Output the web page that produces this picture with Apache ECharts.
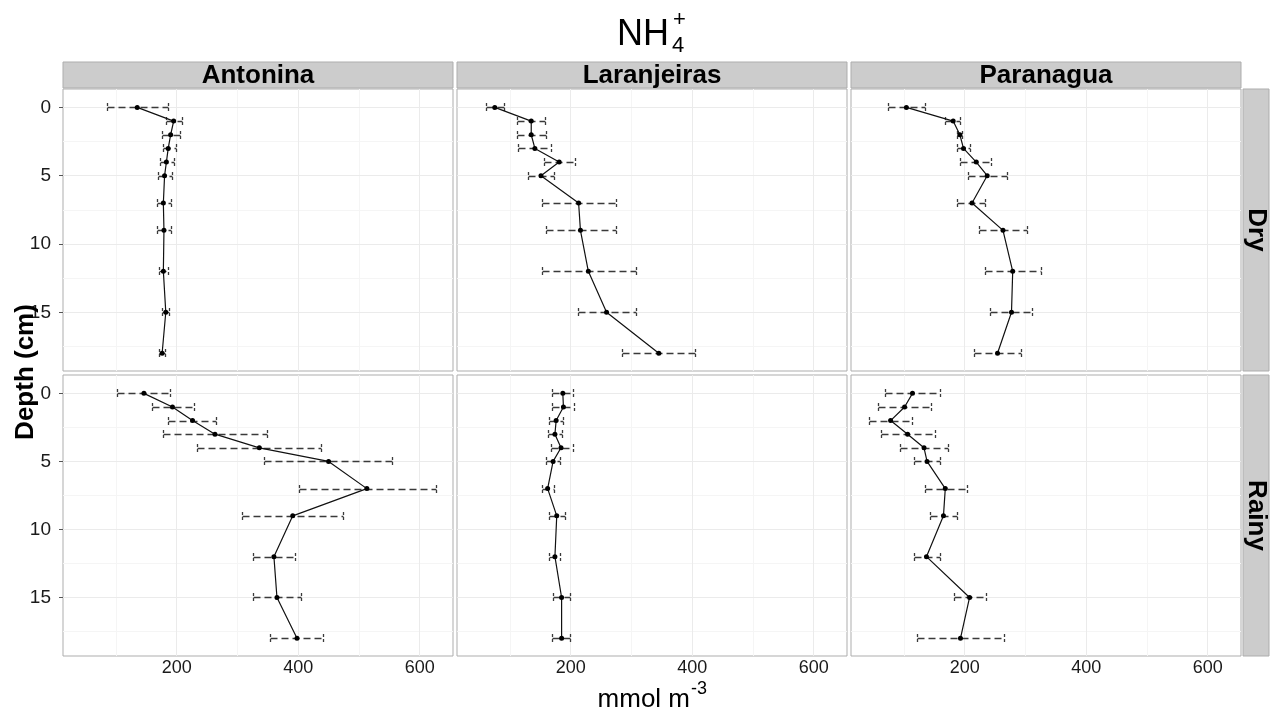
<!DOCTYPE html>
<html><head><meta charset="utf-8">
<script src="https://cdn.jsdelivr.net/npm/echarts@6/dist/echarts.min.js"></script>
<style>html,body{margin:0;padding:0;background:#fff}#c{width:1271px;height:713px}</style>
</head><body><div id="c"></div>
<script>
// ---- data ----
const depths = [0, 1, 2, 3, 4, 5, 7, 9, 12, 15, 18];
const sites = ['Antonina', 'Laranjeiras', 'Paranagua'];
const seasons = ['Dry', 'Rainy'];

const antoninaDryMean = [135, 195, 190, 186, 183, 180, 178, 179, 178, 182, 176];
const antoninaDryLow  = [86, 182, 175, 177, 173, 169, 168, 168, 171, 175, 171];
const antoninaDryHigh = [185, 209, 205, 198, 195, 192, 190, 190, 185, 187, 181];

const laranjeirasDryMean = [75, 135, 135, 141, 181, 151, 213, 216, 229, 259, 345];
const laranjeirasDryLow  = [61, 111, 111, 114, 156, 129, 152, 159, 152, 212, 285];
const laranjeirasDryHigh = [90, 158, 159, 168, 207, 173, 274, 274, 308, 307, 405];

const paranaguaDryMean = [104, 181, 192, 198, 219, 237, 212, 263, 279, 277, 254];
const paranaguaDryLow  = [74, 168, 187, 188, 193, 205, 188, 224, 233, 242, 216];
const paranaguaDryHigh = [134, 193, 195, 209, 244, 269, 234, 302, 325, 311, 292];

const antoninaRainyMean = [146, 193, 226, 263, 336, 450, 513, 391, 360, 365, 398];
const antoninaRainyLow  = [102, 159, 185, 178, 233, 344, 401, 308, 326, 325, 354];
const antoninaRainyHigh = [189, 228, 265, 349, 437, 554, 627, 474, 395, 404, 441];

const laranjeirasRainyMean = [187, 188, 176, 174, 184, 171, 162, 177, 174, 185, 185];
const laranjeirasRainyLow  = [170, 170, 165, 163, 167, 159, 152, 164, 165, 171, 170];
const laranjeirasRainyHigh = [203, 205, 187, 185, 203, 183, 173, 190, 182, 199, 199];

const paranaguaRainyMean = [114, 101, 78, 106, 133, 138, 168, 165, 137, 208, 193];
const paranaguaRainyLow  = [68, 58, 43, 63, 93, 117, 134, 143, 116, 182, 122];
const paranaguaRainyHigh = [159, 144, 113, 151, 173, 160, 203, 188, 159, 235, 264];

const xTickValues = [200, 400, 600];
const xMinorGrid = [100, 300, 500];
const yTickValues = [0, 5, 10, 15];
const yMinorGrid = [2.5, 7.5, 12.5, 17.5];

const panelData = [
  [[antoninaDryMean, antoninaDryLow, antoninaDryHigh],
   [laranjeirasDryMean, laranjeirasDryLow, laranjeirasDryHigh],
   [paranaguaDryMean, paranaguaDryLow, paranaguaDryHigh]],
  [[antoninaRainyMean, antoninaRainyLow, antoninaRainyHigh],
   [laranjeirasRainyMean, laranjeirasRainyLow, laranjeirasRainyHigh],
   [paranaguaRainyMean, paranaguaRainyLow, paranaguaRainyHigh]]
];

// ---- layout ----
const xExtent = [12.8, 654.8];
const yExtent = [-1.35, 19.3];
const panelLeft = [63, 457, 851];
const panelWidth = 390;
const panelTop = [89, 375];
const panelHeight = [282, 281];
const FONT = '"Liberation Sans", Arial, Helvetica, sans-serif';
const textColor = '#1a1a1a';
const borderColor = '#ADADAD';
const stripFill = '#CCCCCC';
const barColor = '#3a3a3a';

const grids = [], xAxes = [], yAxes = [], series = [];
for (let si = 0; si < 2; si++) {
  for (let pi = 0; pi < 3; pi++) {
    const idx = si * 3 + pi;
    grids.push({
      left: panelLeft[pi], top: panelTop[si], width: panelWidth, height: panelHeight[si],
      show: true, borderColor: borderColor, borderWidth: 1, backgroundColor: '#fff', containLabel: false
    });
    xAxes.push({
      gridIndex: idx, type: 'value', min: xExtent[0], max: xExtent[1], splitNumber: 6,
      splitLine: { show: false }, axisLine: { show: false },
      axisTick: { show: si === 1, customValues: xTickValues, length: 4, lineStyle: { color: '#555' } },
      axisLabel: { show: si === 1, customValues: xTickValues, fontSize: 18, color: textColor, margin: 3, fontFamily: FONT,
        formatter: v => (xTickValues.indexOf(v) >= 0 ? String(v) : '') }
    });
    yAxes.push({
      gridIndex: idx, type: 'value', inverse: true, min: yExtent[0], max: yExtent[1], splitNumber: 4,
      splitLine: { show: false }, axisLine: { show: false },
      axisTick: { show: pi === 0, customValues: yTickValues, length: 4, lineStyle: { color: '#555' } },
      axisLabel: { show: pi === 0, customValues: yTickValues, fontSize: 19, color: textColor, margin: 12, fontFamily: FONT,
        formatter: v => (yTickValues.indexOf(v) >= 0 ? String(v) : '') }
    });
    const gridLines = [];
    xMinorGrid.forEach(v => gridLines.push({ xAxis: v, lineStyle: { color: '#F5F5F5', width: 1, type: 'solid' } }));
    yMinorGrid.forEach(v => gridLines.push({ yAxis: v, lineStyle: { color: '#F5F5F5', width: 1, type: 'solid' } }));
    xTickValues.forEach(v => gridLines.push({ xAxis: v, lineStyle: { color: '#EBEBEB', width: 1, type: 'solid' } }));
    yTickValues.forEach(v => gridLines.push({ yAxis: v, lineStyle: { color: '#EBEBEB', width: 1, type: 'solid' } }));
    series.push({
      type: 'line', xAxisIndex: idx, yAxisIndex: idx, data: [], silent: true, z: 1, animation: false,
      markLine: { silent: true, z: 1, symbol: ['none', 'none'], label: { show: false }, animation: false,
        emphasis: { disabled: true }, data: gridLines }
    });
    const [mean, low, high] = panelData[si][pi];
    series.push({
      type: 'custom', xAxisIndex: idx, yAxisIndex: idx, z: 6, animation: false, silent: true,
      data: depths.map((d, i) => [low[i], high[i], d, mean[i]]),
      encode: { x: [0, 1], y: 2 },
      renderItem: (params, api) => {
        const a = api.coord([api.value(0), api.value(2)]);
        const b = api.coord([api.value(1), api.value(2)]);
        const y = Math.round(a[1]) + 0.5;
        const xa = Math.round(a[0]) + 0.5, xb = Math.round(b[0]) + 0.5;
        const h = 4.5;
        const st = { stroke: barColor, lineWidth: 1.3, lineDash: [7, 4], fill: null };
        const cs = { stroke: barColor, lineWidth: 1.3, lineDash: [3, 2], fill: null };
        return { type: 'group', children: [
          { type: 'line', shape: { x1: xa, y1: y, x2: xb, y2: y }, style: st },
          { type: 'line', shape: { x1: xa, y1: y - h, x2: xa, y2: y + h }, style: cs },
          { type: 'line', shape: { x1: xb, y1: y - h, x2: xb, y2: y + h }, style: cs }
        ] };
      }
    });
    series.push({
      type: 'line', xAxisIndex: idx, yAxisIndex: idx, z: 7, animation: false, silent: true,
      data: depths.map((d, i) => [mean[i], d]),
      symbol: 'circle', symbolSize: 5, showSymbol: true,
      itemStyle: { color: '#000' }, lineStyle: { color: '#111', width: 1.2 }
    });
  }
}

const graphics = [];
// top strips
sites.forEach((s, pi) => {
  graphics.push({ type: 'rect', shape: { x: panelLeft[pi], y: 62, width: panelWidth, height: 26 },
    style: { fill: stripFill, stroke: borderColor, lineWidth: 1 }, z: 10 });
  graphics.push({ type: 'text', x: panelLeft[pi] + panelWidth / 2, y: 76, z: 11,
    style: { text: s, fontSize: 26, fontWeight: 'bold', fontFamily: FONT, fill: '#000', textAlign: 'center', textVerticalAlign: 'middle' } });
});
// right strips
seasons.forEach((s, si) => {
  graphics.push({ type: 'rect', shape: { x: 1243, y: panelTop[si], width: 26, height: panelHeight[si] },
    style: { fill: stripFill, stroke: borderColor, lineWidth: 1 }, z: 10 });
  graphics.push({ type: 'text', x: 1256, y: panelTop[si] + panelHeight[si] / 2, rotation: -Math.PI / 2, z: 11,
    style: { text: s, fontSize: 26, fontWeight: 'bold', fontFamily: FONT, fill: '#000', textAlign: 'center', textVerticalAlign: 'middle' } });
});
// title NH4+
graphics.push({ type: 'text', x: 643, y: 35, z: 11,
  style: { text: 'NH', fontSize: 36, fontFamily: FONT, fill: '#000', textAlign: 'center', textVerticalAlign: 'middle' } });
graphics.push({ type: 'text', x: 672, y: 46, z: 11,
  style: { text: '4', fontSize: 22, fontFamily: FONT, fill: '#000', textAlign: 'left', textVerticalAlign: 'middle' } });
graphics.push({ type: 'text', x: 673, y: 20, z: 11,
  style: { text: '+', fontSize: 22, fontFamily: FONT, fill: '#000', textAlign: 'left', textVerticalAlign: 'middle' } });
// y axis title
graphics.push({ type: 'text', x: 26, y: 372, rotation: Math.PI / 2, z: 11,
  style: { text: 'Depth (cm)', fontSize: 26, fontWeight: 'bold', fontFamily: FONT, fill: '#000', textAlign: 'center', textVerticalAlign: 'middle' } });
// x axis title
graphics.push({ type: 'text', x: 690, y: 700, z: 11,
  style: { text: 'mmol m', fontSize: 26, fontFamily: FONT, fill: '#000', textAlign: 'right', textVerticalAlign: 'middle' } });
graphics.push({ type: 'text', x: 691, y: 689, z: 11,
  style: { text: '-3', fontSize: 18, fontFamily: FONT, fill: '#000', textAlign: 'left', textVerticalAlign: 'middle' } });

const chart = echarts.init(document.getElementById('c'), null, { renderer: 'canvas' });
chart.setOption({
  backgroundColor: '#fff',
  animation: false,
  grid: grids, xAxis: xAxes, yAxis: yAxes, series: series,
  graphic: graphics
});
</script>
</body></html>
